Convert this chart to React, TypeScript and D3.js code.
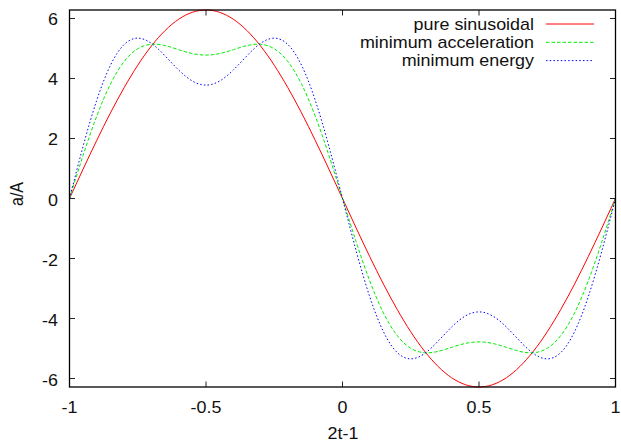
import React from "react";
import * as d3 from "d3";

const xs = [
  -1, -0.95, -0.9, -0.85, -0.8, -0.75, -0.7, -0.65, -0.6, -0.55, -0.5,
  -0.45, -0.4, -0.35, -0.3, -0.25, -0.2, -0.15, -0.1, -0.05, 0,
  0.05, 0.1, 0.15, 0.2, 0.25, 0.3, 0.35, 0.4, 0.45, 0.5,
  0.55, 0.6, 0.65, 0.7, 0.75, 0.8, 0.85, 0.9, 0.95, 1,
];

const pureSinusoidal = [
  0, 0.983, 1.941, 2.853, 3.693, 4.443, 5.083, 5.598, 5.976, 6.206, 6.283,
  6.206, 5.976, 5.598, 5.083, 4.443, 3.693, 2.853, 1.941, 0.983, 0,
  -0.983, -1.941, -2.853, -3.693, -4.443, -5.083, -5.598, -5.976, -6.206, -6.283,
  -6.206, -5.976, -5.598, -5.083, -4.443, -3.693, -2.853, -1.941, -0.983, 0,
];

const minimumAcceleration = [
  0, 1.444, 2.751, 3.814, 4.564, 4.992, 5.141, 5.097, 4.96, 4.831, 4.78,
  4.831, 4.96, 5.097, 5.141, 4.992, 4.564, 3.814, 2.751, 1.444, 0,
  -1.444, -2.751, -3.814, -4.564, -4.992, -5.141, -5.097, -4.96, -4.831, -4.78,
  -4.831, -4.96, -5.097, -5.141, -4.992, -4.564, -3.814, -2.751, -1.444, 0,
];

const minimumEnergy = [
  0, 1.745, 3.281, 4.441, 5.131, 5.345, 5.171, 4.756, 4.282, 3.916, 3.78,
  3.916, 4.282, 4.756, 5.171, 5.345, 5.131, 4.441, 3.281, 1.745, 0,
  -1.745, -3.281, -4.441, -5.131, -5.345, -5.171, -4.756, -4.282, -3.916, -3.78,
  -3.916, -4.282, -4.756, -5.171, -5.345, -5.131, -4.441, -3.281, -1.745, 0,
];

const xTicks = [-1, -0.5, 0, 0.5, 1];
const xTickLabels = ["-1", "-0.5", "0", "0.5", "1"];
const yTicks = [-6, -4, -2, 0, 2, 4, 6];
const yTickLabels = ["-6", "-4", "-2", "0", "2", "4", "6"];

const seriesNames = ["pure sinusoidal", "minimum acceleration", "minimum energy"];
const seriesColors = ["#ff0000", "#00ee00", "#0000ff"];
const seriesDash = ["none", "3.5,2", "1.5,2.2"];
const seriesValues = [pureSinusoidal, minimumAcceleration, minimumEnergy];

const W = 621;
const H = 443;
const L = 69.5;
const R = 615.5;
const T = 10;
const B = 387;
const SX = 1.12;
const FONT = "'Liberation Sans', Arial, Helvetica, sans-serif";

function Txt({ x, y, anchor = "start", rotate = 0, children }: any) {
  const tr = `translate(${x},${y}) scale(${SX},1)` + (rotate ? ` rotate(${rotate})` : "");
  return (
    <text transform={tr} textAnchor={anchor} fontFamily={FONT} fontSize={16} fill="#111">
      {children}
    </text>
  );
}

export default function App() {
  const x = d3.scaleLinear().domain([-1, 1]).range([L, R]);
  const y = d3.scaleLinear().domain([-2 * Math.PI, 2 * Math.PI]).range([B, T]);
  const line = d3
    .line<number>()
    .x((_, i) => x(xs[i]))
    .y((d) => y(d))
    .curve(d3.curveNatural);

  const tl = 5.5;

  return (
    <svg width={W} height={H} style={{ position: "absolute", left: 0, top: 0, background: "#fff" }}>
      <defs>
        <clipPath id="plot">
          <rect x={L} y={T - 1} width={R - L} height={B - T + 2} />
        </clipPath>
      </defs>
      {/* ticks */}
      <g stroke="#222" strokeWidth={1}>
        {yTicks.map((t) => (
          <g key={"y" + t}>
            <line x1={L} x2={L + tl} y1={y(t)} y2={y(t)} />
            <line x1={R} x2={R - tl} y1={y(t)} y2={y(t)} />
          </g>
        ))}
        {xTicks.map((t) => (
          <g key={"x" + t}>
            <line x1={x(t)} x2={x(t)} y1={B} y2={B - tl} />
            <line x1={x(t)} x2={x(t)} y1={T} y2={T + tl} />
          </g>
        ))}
      </g>
      {/* curves */}
      <g clipPath="url(#plot)" fill="none">
        {seriesValues.map((vals, i) => (
          <path
            key={i}
            d={line(vals) || ""}
            stroke={seriesColors[i]}
            strokeWidth={1}
            strokeDasharray={seriesDash[i]}
          />
        ))}
      </g>
      {/* frame */}
      <rect x={L} y={T} width={R - L} height={B - T} fill="none" stroke="#000" strokeWidth={1.3} />
      {/* tick labels */}
      {yTicks.map((t, i) => (
        <Txt key={"yl" + t} x={58} y={y(t) + 7} anchor="end">
          {yTickLabels[i]}
        </Txt>
      ))}
      {xTicks.map((t, i) => (
        <Txt key={"xl" + t} x={x(t)} y={412.5} anchor="middle">
          {xTickLabels[i]}
        </Txt>
      ))}
      {/* axis titles */}
      <Txt x={343} y={439} anchor="middle">2t-1</Txt>
      <Txt x={22.5} y={194} anchor="middle" rotate={-90}>a/A</Txt>
      {/* legend */}
      {seriesNames.map((name, i) => {
        const ly = 24 + i * 18.3;
        return (
          <g key={name}>
            <Txt x={534} y={ly + 5.7} anchor="end">{name}</Txt>
            <line
              x1={546}
              x2={594}
              y1={ly}
              y2={ly}
              stroke={seriesColors[i]}
              strokeWidth={1}
              strokeDasharray={seriesDash[i]}
            />
          </g>
        );
      })}
    </svg>
  );
}
